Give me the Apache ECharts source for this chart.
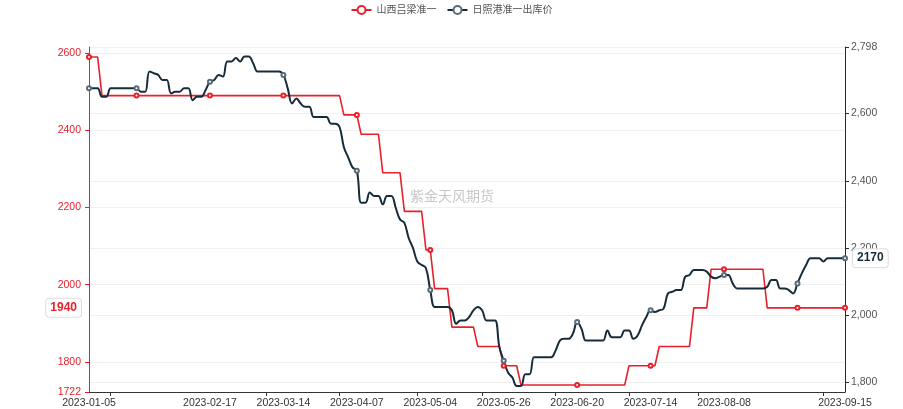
<!DOCTYPE html>
<html><head><meta charset="utf-8">
<script src="https://cdn.jsdelivr.net/npm/echarts@6/dist/echarts.min.js"></script>
<style>html,body{margin:0;padding:0;background:#fff}#c{width:903px;height:409px}</style>
</head><body><div id="c"></div>
<script>
// working days per month (2023)
const daysJan = [5,6,9,10,11,12,13,16,17,18,19,20,28,29,30,31];
const daysFeb = [1,2,3,6,7,8,9,10,13,14,15,16,17,20,21,22,23,24,27,28];
const daysMar = [1,2,3,6,7,8,9,10,13,14,15,16,17,20,21,22,23,24,27,28,29,30,31];
const daysApr = [3,4,6,7,10,11,12,13,14,17,18,19,20,21,23,24,25,26,27,28];
const daysMay = [4,5,6,8,9,10,11,12,15,16,17,18,19,22,23,24,25,26,29,30,31];
const daysJun = [1,2,5,6,7,8,9,12,13,14,15,16,19,20,21,25,26,27,28,29,30];
const daysJul = [3,4,5,6,7,10,11,12,13,14,17,18,19,20,21,24,25,26,27,28,31];
const daysAug = [1,2,3,4,7,8,9,10,11,14,15,16,17,18,21,22,23,24,25,28,29,30,31];
const daysSep = [1,4,5,6,7,8,11,12,13,14,15];

// 山西吕梁准一 (left axis)
const redJan = [2590,2590,2590,2490,2490,2490,2490,2490,2490,2490,2490,2490,2490,2490,2490,2490];
const redFeb = [2490,2490,2490,2490,2490,2490,2490,2490,2490,2490,2490,2490,2490,2490,2490,2490,2490,2490,2490,2490];
const redMar = [2490,2490,2490,2490,2490,2490,2490,2490,2490,2490,2490,2490,2490,2490,2490,2490,2490,2490,2490,2490,2490,2490,2490];
const redApr = [2440,2440,2440,2440,2390,2390,2390,2390,2390,2290,2290,2290,2290,2290,2190,2190,2190,2190,2190,2090];
const redMay = [2090,1990,1990,1990,1990,1890,1890,1890,1890,1890,1890,1840,1840,1840,1840,1840,1840,1790,1790,1790,1790];
const redJun = [1740,1740,1740,1740,1740,1740,1740,1740,1740,1740,1740,1740,1740,1740,1740,1740,1740,1740,1740,1740,1740];
const redJul = [1740,1740,1740,1740,1790,1790,1790,1790,1790,1790,1790,1840,1840,1840,1840,1840,1840,1840,1840,1940,1940];
const redAug = [1940,1940,2040,2040,2040,2040,2040,2040,2040,2040,2040,2040,2040,2040,2040,1940,1940,1940,1940,1940,1940,1940,1940];
const redSep = [1940,1940,1940,1940,1940,1940,1940,1940,1940,1940,1940];

// 日照港准一出库价 (right axis)
const darkJan = [2675,2675,2675,2650,2650,2675,2675,2675,2675,2675,2675,2675,2665,2665,2725,2720];
const darkFeb = [2715,2700,2700,2660,2665,2665,2675,2675,2640,2650,2650,2670,2695,2700,2715,2710,2755,2755,2765,2755];
const darkMar = [2770,2770,2750,2725,2725,2725,2725,2725,2725,2715,2675,2630,2645,2630,2620,2620,2590,2590,2590,2590,2570,2570,2560];
const darkApr = [2500,2470,2440,2430,2335,2335,2365,2355,2355,2330,2355,2355,2320,2285,2275,2230,2200,2160,2150,2140];
const darkMay = [2075,2025,2025,2025,2025,2015,1975,1985,1985,1995,2015,2025,2015,1985,1985,1985,1905,1865,1830,1815,1790];
const darkJun = [1790,1825,1825,1875,1875,1875,1875,1875,1895,1925,1930,1930,1945,1980,1960,1925,1925,1925,1925,1925,1955];
const darkJul = [1935,1935,1935,1955,1955,1930,1940,1970,1995,2015,2010,2015,2020,2065,2070,2075,2075,2115,2120,2135,2135];
const darkAug = [2135,2130,2115,2110,2115,2120,2120,2095,2080,2080,2080,2080,2080,2080,2080,2085,2105,2105,2080,2080,2075,2065,2095];
const darkSep = [2125,2150,2170,2170,2170,2160,2170,2170,2170,2170,2170];

const labelDates = ['2023-01-05','2023-02-17','2023-03-14','2023-04-07','2023-05-04','2023-05-26','2023-06-20','2023-07-14','2023-08-08','2023-09-15'];
const symbolDates = ['2023-01-05','2023-01-20','2023-02-17','2023-03-14','2023-04-07','2023-05-04','2023-05-26','2023-06-20','2023-07-14','2023-08-08','2023-08-31','2023-09-15'];
const tickDates = ['2023-01-12','2023-03-08','2023-03-31','2023-04-26','2023-05-19','2023-06-13','2023-07-07','2023-07-31','2023-09-08'];

const monthDays = [['01',daysJan],['02',daysFeb],['03',daysMar],['04',daysApr],['05',daysMay],['06',daysJun],['07',daysJul],['08',daysAug],['09',daysSep]];
const categories = [];
monthDays.forEach(([m, ds]) => ds.forEach(d => categories.push('2023-' + m + '-' + String(d).padStart(2,'0'))));
const red = [].concat(redJan,redFeb,redMar,redApr,redMay,redJun,redJul,redAug,redSep);
const dark = [].concat(darkJan,darkFeb,darkMar,darkApr,darkMay,darkJun,darkJul,darkAug,darkSep);

const RED = '#e8202a', DARK = '#172c3a';
const FONT = '"Liberation Sans", Arial, "Noto Sans CJK SC", sans-serif';
const symSet = new Set(symbolDates);
const withSymbols = arr => arr.map((v, i) => symSet.has(categories[i]) ? v : {value: v, symbol: 'none'});

const chart = echarts.init(document.getElementById('c'));
chart.setOption({
  animation: false,
  textStyle: {fontFamily: FONT},
  legend: {
    top: 0, left: 'center', itemWidth: 20, itemHeight: 10, itemGap: 10,
    textStyle: {fontSize: 10, color: '#555', fontFamily: FONT},
    data: ['山西吕梁准一', '日照港准一出库价']
  },
  grid: {left: 89, right: 58, top: 47, bottom: 17, outerBoundsMode: 'none'},
  graphic: [{
    type: 'text', left: 410, top: 190, silent: true,
    style: {text: '紫金天风期货', fontSize: 14, fill: '#c8c8c8', fontFamily: FONT}
  }],
  xAxis: {
    type: 'category', data: categories, boundaryGap: false,
    axisLine: {show: true, lineStyle: {color: '#333'}},
    axisTick: {show: true, length: 4, interval: (i, v) => tickDates.includes(v), lineStyle: {color: '#333'}},
    axisLabel: {interval: (i, v) => labelDates.includes(v), color: '#333', fontSize: 10.5, margin: 6, hideOverlap: false},
    splitLine: {show: false}
  },
  yAxis: [{
    type: 'value', position: 'left',
    min: Math.floor(Math.min(...red) * 0.99), max: Math.ceil(Math.max(...red) * 1.01),
    axisLine: {show: true, lineStyle: {color: RED}},
    axisTick: {show: true, length: 4, lineStyle: {color: RED}},
    axisLabel: {color: RED, fontSize: 10.5, margin: 8, formatter: v => String(v), showMinLabel: true, showMaxLabel: false},
    splitLine: {show: true, lineStyle: {color: '#f0f0f0'}}
  }, {
    type: 'value', position: 'right',
    min: Math.floor(Math.min(...dark) * 0.99), max: Math.ceil(Math.max(...dark) * 1.01),
    axisLine: {show: true, lineStyle: {color: DARK}},
    axisTick: {show: true, length: 4, lineStyle: {color: DARK}},
    axisLabel: {color: '#555', fontSize: 10.5, margin: 6, showMinLabel: false, showMaxLabel: true},
    splitLine: {show: true, lineStyle: {color: '#f0f0f0'}}
  }],
  series: [{
    name: '山西吕梁准一', type: 'line', yAxisIndex: 0, data: withSymbols(red),
    color: RED, lineStyle: {width: 1.6, color: RED},
    symbol: 'emptyCircle', symbolSize: 4, showAllSymbol: true,
    itemStyle: {color: RED, borderColor: RED, borderWidth: 1},
    emphasis: {disabled: true},
    markLine: {
      silent: true, symbol: 'none', lineStyle: {color: 'rgba(0,0,0,0)', width: 0},
      label: {show: true, position: 'start', distance: 8, formatter: '{c}', color: RED, fontWeight: 'bold', fontSize: 12,
        backgroundColor: '#fff', borderColor: '#ddd', borderWidth: 1, borderRadius: 3, padding: [3, 4]},
      data: [{yAxis: red[red.length - 1]}]
    }
  }, {
    name: '日照港准一出库价', type: 'line', yAxisIndex: 1, data: withSymbols(dark),
    color: DARK, smooth: 0.4, lineStyle: {width: 2, color: DARK},
    symbol: 'emptyCircle', symbolSize: 4, showAllSymbol: true,
    itemStyle: {color: '#5a6b76', borderColor: '#5a6b76', borderWidth: 1},
    emphasis: {disabled: true},
    markLine: {
      silent: true, symbol: 'none', lineStyle: {color: 'rgba(0,0,0,0)', width: 0},
      label: {show: true, position: 'end', distance: 8, formatter: '{c}', color: DARK, fontWeight: 'bold', fontSize: 12,
        backgroundColor: '#fff', borderColor: '#ddd', borderWidth: 1, borderRadius: 3, padding: [3, 4]},
      data: [{yAxis: dark[dark.length - 1]}]
    }
  }]
});
</script></body></html>
